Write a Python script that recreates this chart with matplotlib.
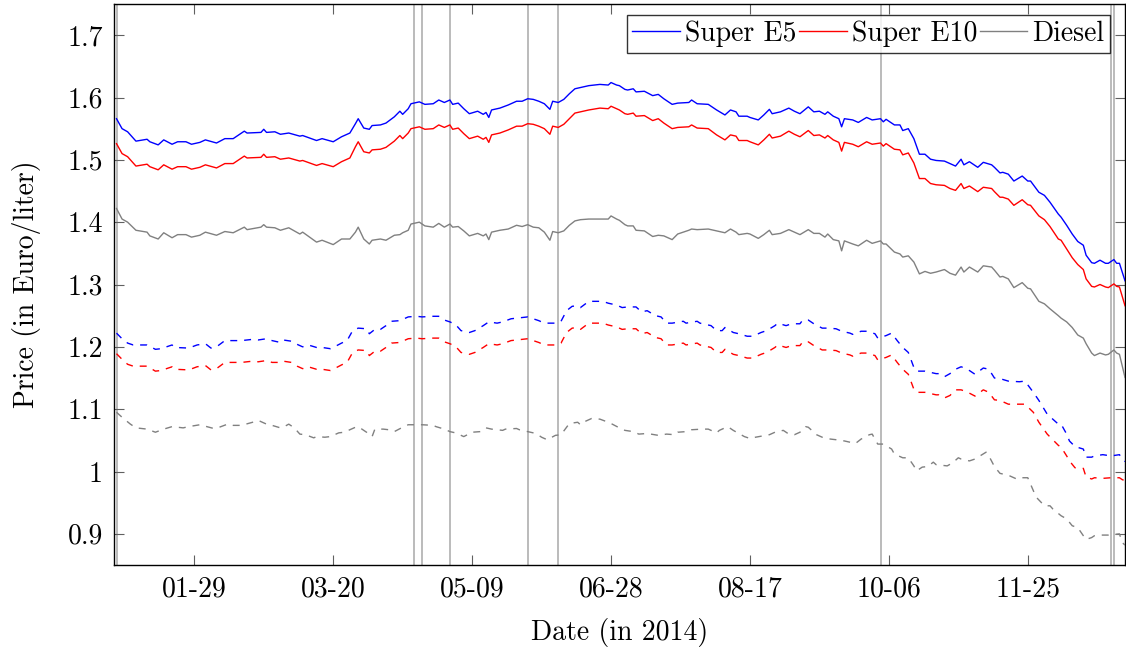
import numpy as np
import matplotlib
matplotlib.use("Agg")
import matplotlib.pyplot as plt
import matplotlib.dates as mdates

plt.rcParams['font.family'] = ['cmr10', 'DejaVu Serif']
plt.rcParams['mathtext.fontset'] = 'cm'
plt.rcParams['axes.formatter.use_mathtext'] = True

# ---- data (day of year 2014, value in Euro/liter) ----
solid_days = [1, 3, 5, 8, 12, 13, 16, 18, 21, 23, 26, 28, 31, 33, 37, 40, 43, 47, 48, 53, 54, 55, 58, 60, 63,
              67, 68, 73, 75, 79, 82, 85, 87, 88, 90, 92, 93, 96, 98, 101, 103, 104, 106, 107, 110, 112, 115,
              117, 119, 121, 122, 124, 126, 128, 131, 133, 134, 135, 136, 139, 142, 145, 147, 149, 151, 153,
              155, 157, 158, 160, 162, 164, 166, 168, 171, 175, 178, 179, 181, 182, 184, 185, 187, 188, 191,
              194, 196, 198, 201, 203, 207, 208, 210, 214, 217, 220, 222, 224, 225, 228, 229, 232, 234, 236,
              237, 240, 243, 245, 247, 250, 252, 254, 256, 257, 259, 261, 262, 263, 266, 268, 271, 273, 276,
              277, 278, 281, 283, 284, 286, 288, 290, 292, 294, 296, 299, 301, 303, 305, 306, 308, 311, 313,
              316, 317, 319, 320, 322, 324, 327, 329, 330, 333, 335, 337, 340, 341, 343, 345, 347, 349, 350,
              352, 353, 355, 357, 358, 360, 361, 362, 364]

e5 = [1.566, 1.550, 1.545, 1.530, 1.533, 1.529, 1.524, 1.532, 1.525, 1.529, 1.529, 1.525, 1.528, 1.532, 1.527,
      1.534, 1.534, 1.546, 1.543, 1.544, 1.549, 1.544, 1.545, 1.541, 1.543,
      1.538, 1.539, 1.531, 1.534, 1.529, 1.537, 1.543, 1.558, 1.566, 1.551, 1.549, 1.555, 1.556, 1.559,
      1.569, 1.578, 1.573, 1.582, 1.590, 1.593, 1.589, 1.590,
      1.596, 1.592, 1.596, 1.589, 1.591, 1.582, 1.574, 1.578, 1.573, 1.576, 1.568, 1.580, 1.583, 1.588,
      1.594, 1.594, 1.598, 1.597, 1.594,
      1.590, 1.581, 1.594, 1.592, 1.597, 1.606, 1.614, 1.616, 1.619, 1.621, 1.620, 1.624, 1.620, 1.619,
      1.613, 1.612, 1.614, 1.609, 1.610,
      1.603, 1.605, 1.598, 1.589, 1.591, 1.592, 1.596, 1.590, 1.589, 1.580, 1.572, 1.580, 1.577, 1.570,
      1.570, 1.568, 1.564, 1.572, 1.581,
      1.574, 1.577, 1.583, 1.578, 1.574, 1.585, 1.577, 1.578, 1.573, 1.577, 1.570, 1.566, 1.553, 1.566,
      1.564, 1.560, 1.568, 1.564, 1.566,
      1.561, 1.565, 1.556, 1.556, 1.547, 1.550, 1.534, 1.509, 1.509, 1.501, 1.499, 1.498, 1.494, 1.490,
      1.501, 1.492, 1.497, 1.488, 1.496,
      1.492, 1.488, 1.479, 1.480, 1.477, 1.466, 1.474, 1.466, 1.466, 1.448, 1.443, 1.432, 1.413, 1.408,
      1.395, 1.381, 1.369, 1.363, 1.347,
      1.335, 1.334, 1.339, 1.334, 1.334, 1.340, 1.334, 1.334, 1.306]

e10 = [1.526, 1.510, 1.505, 1.490, 1.493, 1.489, 1.484, 1.492, 1.485, 1.489, 1.489, 1.485, 1.488, 1.492, 1.487,
       1.494, 1.494, 1.506, 1.503, 1.504, 1.509, 1.504, 1.505, 1.501, 1.503,
       1.498, 1.499, 1.491, 1.494, 1.489, 1.497, 1.503, 1.521, 1.529, 1.513, 1.511, 1.516, 1.517, 1.520,
       1.530, 1.539, 1.534, 1.543, 1.550, 1.553, 1.549, 1.550,
       1.556, 1.552, 1.556, 1.549, 1.551, 1.542, 1.534, 1.538, 1.533, 1.536, 1.528, 1.540, 1.543, 1.548,
       1.554, 1.554, 1.558, 1.557, 1.554,
       1.550, 1.541, 1.554, 1.552, 1.557, 1.566, 1.575, 1.577, 1.580, 1.583, 1.582, 1.586, 1.582, 1.580,
       1.574, 1.573, 1.575, 1.570, 1.571,
       1.563, 1.566, 1.559, 1.550, 1.552, 1.553, 1.556, 1.551, 1.550, 1.540, 1.532, 1.540, 1.538, 1.531,
       1.531, 1.529, 1.524, 1.532, 1.541,
       1.535, 1.538, 1.546, 1.541, 1.537, 1.547, 1.539, 1.540, 1.535, 1.539, 1.532, 1.528, 1.514, 1.528,
       1.525, 1.521, 1.529, 1.525, 1.527,
       1.522, 1.526, 1.517, 1.516, 1.508, 1.511, 1.495, 1.470, 1.470, 1.462, 1.460, 1.459, 1.454, 1.451,
       1.462, 1.454, 1.458, 1.449, 1.456,
       1.454, 1.449, 1.440, 1.440, 1.437, 1.427, 1.436, 1.428, 1.427, 1.410, 1.404, 1.393, 1.373, 1.371,
       1.357, 1.343, 1.332, 1.324, 1.309,
       1.297, 1.296, 1.300, 1.296, 1.295, 1.301, 1.297, 1.296, 1.266]

diesel = [1.422, 1.405, 1.400, 1.387, 1.384, 1.378, 1.373, 1.383, 1.375, 1.380, 1.380, 1.376, 1.379, 1.384, 1.379,
          1.385, 1.383, 1.392, 1.388, 1.392, 1.396, 1.392, 1.391, 1.387, 1.391,
          1.381, 1.384, 1.368, 1.371, 1.364, 1.373, 1.373, 1.384, 1.392, 1.373, 1.365, 1.371, 1.373, 1.371,
          1.379, 1.380, 1.383, 1.387, 1.397, 1.400, 1.394, 1.392,
          1.398, 1.392, 1.397, 1.392, 1.393, 1.386, 1.378, 1.382, 1.378, 1.381, 1.372, 1.384, 1.387, 1.389,
          1.395, 1.393, 1.396, 1.392, 1.391,
          1.384, 1.371, 1.385, 1.383, 1.386, 1.395, 1.402, 1.404, 1.405, 1.405, 1.405, 1.410, 1.405, 1.403,
          1.396, 1.394, 1.394, 1.387, 1.386,
          1.377, 1.379, 1.378, 1.372, 1.381, 1.387, 1.389, 1.388, 1.389, 1.386, 1.383, 1.389, 1.384, 1.380,
          1.382, 1.381, 1.374, 1.380, 1.387,
          1.380, 1.382, 1.388, 1.384, 1.380, 1.388, 1.382, 1.382, 1.376, 1.381, 1.372, 1.370, 1.354, 1.370,
          1.365, 1.362, 1.371, 1.366, 1.370,
          1.365, 1.365, 1.352, 1.349, 1.344, 1.346, 1.336, 1.317, 1.321, 1.318, 1.320, 1.324, 1.318, 1.315,
          1.328, 1.320, 1.328, 1.320, 1.330,
          1.328, 1.323, 1.312, 1.313, 1.309, 1.295, 1.303, 1.294, 1.293, 1.273, 1.269, 1.261, 1.250, 1.246,
          1.240, 1.231, 1.219, 1.214, 1.205,
          1.190, 1.186, 1.190, 1.187, 1.188, 1.195, 1.190, 1.188, 1.151]

e5d_days = [1, 3, 5, 7, 12, 15, 17, 21, 22, 27, 30, 33, 35, 37, 40, 43, 46, 50, 52, 55, 57, 60, 61, 64, 66, 68,
            70, 73, 75, 78, 79, 82, 84, 86, 88, 91, 92, 94, 96, 98, 100, 103, 106, 109, 111, 115, 117, 119,
            121, 123, 125, 128, 130, 133, 135, 138, 140, 143, 145, 149, 153, 155, 159, 161, 163, 165, 167,
            168, 171, 173, 176, 178, 181, 183, 185, 188, 190, 192, 195, 197, 199, 201, 205, 206, 210, 211,
            215, 217, 219, 220, 223, 225, 228, 230, 233, 235, 238, 239, 242, 244, 247, 248, 250, 252, 255,
            257, 260, 262, 265, 266, 269, 271, 274, 275, 278, 280, 282, 284, 286, 288, 289, 292, 296, 297,
            299, 301, 303, 305, 307, 310, 313, 315, 317, 319, 322, 326, 328, 331, 333, 336, 340, 341, 343,
            344, 346, 349, 350, 352, 353, 356, 359, 362, 363, 364]
e5d = [1.222, 1.213, 1.206, 1.203, 1.203, 1.196, 1.197, 1.203, 1.199, 1.198, 1.203, 1.205, 1.198, 1.200, 1.210,
       1.210, 1.210, 1.212, 1.211, 1.213, 1.210, 1.207, 1.211, 1.209, 1.204, 1.200,
       1.203, 1.199, 1.199, 1.197, 1.199, 1.206, 1.210, 1.226, 1.230, 1.229, 1.221, 1.228, 1.228, 1.234,
       1.241, 1.242, 1.248, 1.249, 1.248, 1.249, 1.249, 1.243,
       1.240, 1.236, 1.226, 1.223, 1.226, 1.234, 1.240, 1.238, 1.240, 1.245, 1.246, 1.248, 1.242, 1.238,
       1.238, 1.241, 1.258, 1.265, 1.266,
       1.263, 1.273, 1.273, 1.273, 1.270, 1.267, 1.263, 1.264, 1.264, 1.256, 1.258, 1.250, 1.248, 1.238,
       1.238, 1.241, 1.238, 1.241, 1.238,
       1.234, 1.226, 1.226, 1.231, 1.223, 1.221, 1.217, 1.217, 1.223, 1.226, 1.234, 1.238, 1.234, 1.237,
       1.237, 1.243, 1.243, 1.237, 1.230,
       1.230, 1.229, 1.225, 1.222, 1.220, 1.225, 1.225, 1.221, 1.214, 1.218, 1.222, 1.210, 1.199, 1.191,
       1.167, 1.161, 1.161, 1.157, 1.157,
       1.152, 1.157, 1.164, 1.168, 1.165, 1.156, 1.166, 1.164, 1.150, 1.149, 1.145, 1.144, 1.145, 1.127,
       1.114, 1.092, 1.076, 1.076, 1.060,
       1.049, 1.040, 1.036, 1.023, 1.023, 1.025, 1.027, 1.025, 1.027, 1.020, 1.016]
e10d = [1.189, 1.180, 1.172, 1.169, 1.169, 1.161, 1.162, 1.168, 1.164, 1.163, 1.168, 1.170, 1.163, 1.165, 1.175,
        1.175, 1.175, 1.177, 1.176, 1.178, 1.175, 1.175, 1.177, 1.175, 1.169, 1.165,
        1.168, 1.164, 1.164, 1.162, 1.164, 1.171, 1.175, 1.191, 1.195, 1.194, 1.186, 1.193, 1.193, 1.199,
        1.206, 1.207, 1.213, 1.214, 1.213, 1.214, 1.214, 1.208,
        1.205, 1.201, 1.191, 1.188, 1.191, 1.199, 1.205, 1.203, 1.205, 1.210, 1.211, 1.213, 1.207, 1.203,
        1.203, 1.206, 1.223, 1.230, 1.231,
        1.228, 1.238, 1.238, 1.238, 1.235, 1.232, 1.228, 1.229, 1.229, 1.221, 1.223, 1.215, 1.213, 1.203,
        1.203, 1.206, 1.203, 1.206, 1.203,
        1.199, 1.191, 1.191, 1.196, 1.188, 1.186, 1.182, 1.182, 1.188, 1.191, 1.199, 1.203, 1.199, 1.202,
        1.202, 1.208, 1.208, 1.202, 1.195,
        1.195, 1.194, 1.190, 1.187, 1.185, 1.190, 1.190, 1.186, 1.179, 1.183, 1.187, 1.175, 1.164, 1.156,
        1.132, 1.127, 1.127, 1.123, 1.123,
        1.118, 1.122, 1.131, 1.131, 1.128, 1.121, 1.131, 1.127, 1.115, 1.114, 1.108, 1.108, 1.108, 1.095,
        1.079, 1.060, 1.042, 1.039, 1.025,
        1.017, 1.006, 1.005, 0.991, 0.988, 0.990, 0.989, 0.990, 0.990, 0.987, 0.985]

dd_days = [1, 3, 6, 8, 12, 15, 18, 21, 25, 27, 31, 36, 38, 41, 43, 46, 50, 52, 55, 57, 60, 61, 63, 65, 67, 69,
           72, 73, 76, 78, 81, 83, 87, 88, 91, 93, 94, 97, 99, 101, 104, 106, 109, 111, 115, 116, 119, 121,
           123, 126, 129, 132, 134, 136, 140, 141, 145, 146, 150, 152, 154, 156, 159, 161, 164, 167, 168,
           169, 172, 175, 178, 179, 182, 184, 187, 189, 192, 196, 199, 202, 203, 206, 208, 212, 214, 217,
           218, 221, 223, 225, 227, 229, 231, 236, 238, 241, 243, 245, 247, 249, 250, 253, 255, 258, 260,
           263, 267, 269, 272, 273, 275, 277, 280, 281, 284, 286, 288, 289, 291, 293, 295, 296, 300, 302,
           304, 305, 308, 310, 314, 315, 317, 319, 322, 325, 326, 329, 332, 335, 337, 338, 341, 343, 345,
           347, 349, 350, 352, 353, 355, 358, 362, 363, 364]
dd = [1.095, 1.087, 1.076, 1.070, 1.068, 1.063, 1.068, 1.072, 1.070, 1.072, 1.075, 1.069, 1.071, 1.076, 1.074,
      1.074, 1.079, 1.082, 1.076, 1.074, 1.070, 1.071, 1.076, 1.070, 1.060, 1.059,
      1.054, 1.056, 1.055, 1.056, 1.062, 1.063, 1.071, 1.072, 1.063, 1.056, 1.068, 1.068, 1.067, 1.064,
      1.071, 1.075, 1.075, 1.075, 1.074, 1.072, 1.068, 1.064,
      1.062, 1.056, 1.063, 1.064, 1.070, 1.068, 1.066, 1.068, 1.069, 1.067, 1.063, 1.061, 1.055, 1.051,
      1.058, 1.059, 1.077, 1.079, 1.075,
      1.079, 1.085, 1.084, 1.079, 1.077, 1.070, 1.066, 1.064, 1.060, 1.061, 1.058, 1.060, 1.059, 1.063,
      1.064, 1.067, 1.068, 1.068, 1.062,
      1.066, 1.072, 1.066, 1.061, 1.056, 1.053, 1.055, 1.059, 1.063, 1.066, 1.060, 1.059, 1.063, 1.072,
      1.071, 1.059, 1.055, 1.052, 1.051,
      1.049, 1.045, 1.052, 1.059, 1.060, 1.044, 1.044, 1.036, 1.028, 1.022, 1.022, 1.009, 1.001, 1.007,
      1.008, 1.015, 1.011, 1.009, 1.014,
      1.022, 1.020, 1.017, 1.020, 1.031, 1.025, 1.008, 0.997, 0.994, 0.988, 0.990, 0.990, 0.959, 0.945,
      0.945, 0.940, 0.929, 0.924, 0.913,
      0.910, 0.897, 0.891, 0.894, 0.897, 0.898, 0.898, 0.900, 0.886, 0.882]

holidays = ['2014-01-01', '2014-04-18', '2014-04-21', '2014-05-01', '2014-05-29',
            '2014-06-09', '2014-10-03', '2014-12-25', '2014-12-26']
tick_dates = ['2014-01-29', '2014-03-20', '2014-05-09', '2014-06-28',
              '2014-08-17', '2014-10-06', '2014-11-25']
yticks = [0.9, 1.0, 1.1, 1.2, 1.3, 1.4, 1.5, 1.6, 1.7]
ytick_labels = ['0.9', '1', '1.1', '1.2', '1.3', '1.4', '1.5', '1.6', '1.7']

base = mdates.date2num(np.datetime64('2014-01-01'))


def to_x(days):
    return base + np.asarray(days, dtype=float) - 1


fig = plt.figure(figsize=(11.26, 6.5), dpi=100)
ax = fig.add_axes([114 / 1126, 85 / 650, 1011 / 1126, 561 / 650])

for h in holidays:
    ax.axvline(mdates.date2num(np.datetime64(h)), color='#a8a8a8', lw=1.1, zorder=1)

lw = 1.0
ax.plot(to_x(solid_days), e5, color='#0000ff', lw=lw, label='Super E5', zorder=3)
ax.plot(to_x(solid_days), e10, color='#ff0000', lw=lw, label='Super E10', zorder=3)
ax.plot(to_x(solid_days), diesel, color='#808080', lw=lw, label='Diesel', zorder=3)
dash = (0, (5.0, 5.0))
ax.plot(to_x(e5d_days), e5d, color='#0000ff', lw=lw, ls=dash, zorder=3)
ax.plot(to_x(e5d_days), e10d, color='#ff0000', lw=lw, ls=dash, zorder=3)
ax.plot(to_x(dd_days), dd, color='#808080', lw=lw, ls=dash, zorder=3)

ax.set_xlim(base - 0.9, base + 363)
ax.set_ylim(0.85, 1.75)
ax.set_xticks([mdates.date2num(np.datetime64(d)) for d in tick_dates])
ax.xaxis.set_major_formatter(mdates.DateFormatter('%m-%d'))
ax.set_yticks(yticks)
ax.set_yticklabels(ytick_labels)

ax.tick_params(direction='in', length=7, width=0.8, color='#606060',
               top=True, right=True, labelsize=20, pad=8)
for s in ax.spines.values():
    s.set_linewidth(1.0)
    s.set_color('black')

ax.set_xlabel('Date (in 2014)', fontsize=20, labelpad=11)
ax.set_ylabel('Price (in Euro/liter)', fontsize=20, labelpad=19)

leg = ax.legend(loc='upper right', bbox_to_anchor=(1 - 15 / 1011, 1 - 11 / 561), ncol=3,
                fontsize=20, frameon=True, fancybox=False, edgecolor='black',
                handlelength=1.7, handletextpad=0.18, columnspacing=0.12,
                borderpad=0.2, borderaxespad=0.0)
leg.get_frame().set_linewidth(1.0)

fig.savefig('out.png', dpi=100)
